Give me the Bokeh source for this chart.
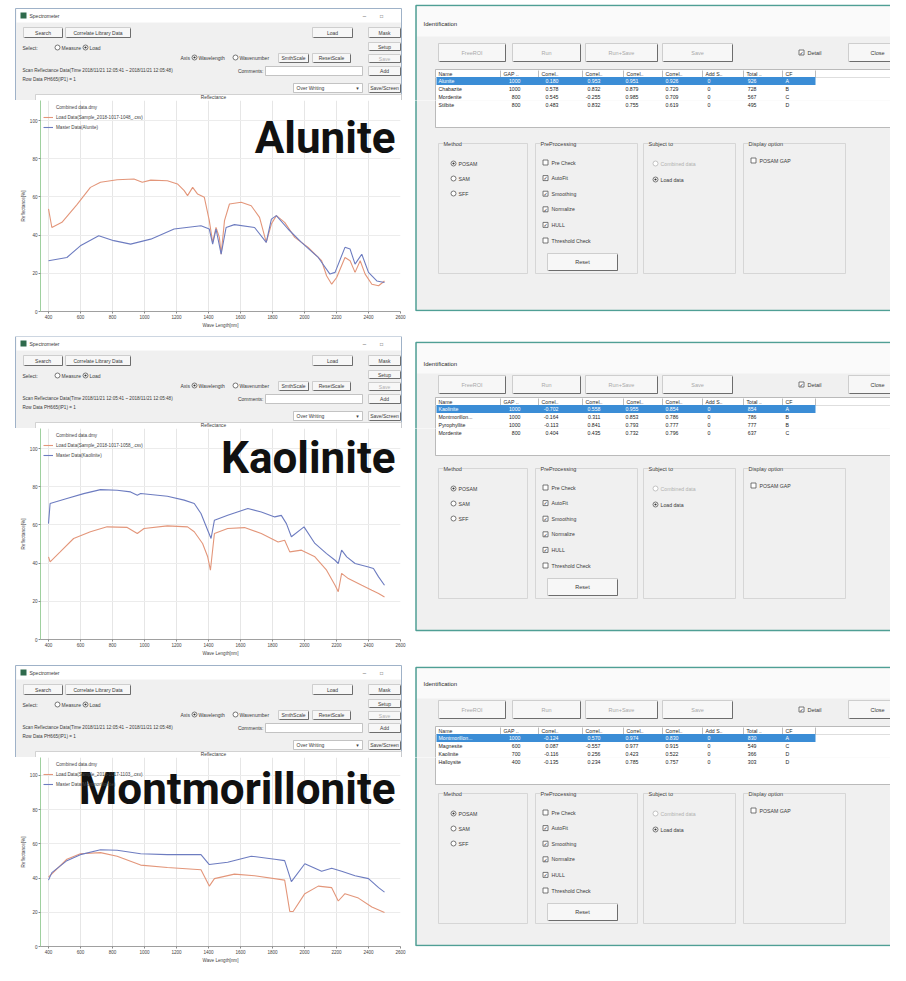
from bokeh.plotting import figure
from bokeh.layouts import row, column
from bokeh.models import Range1d, Label, FixedTicker, Legend, LegendItem
from bokeh.embed import file_html
from bokeh.resources import INLINE
from bokeh.core.properties import value

# ---------------------------------------------------------------- data
minerals = ["Alunite", "Kaolinite", "Montmorillonite"]

alunite_load_wl = [400, 421, 484, 578, 662, 725, 829, 934, 986, 1039, 1143, 1206, 1248, 1269, 1301,
                   1332, 1374, 1405, 1426, 1447, 1468, 1479, 1500, 1531, 1604, 1667, 1719, 1761, 1793,
                   1824, 1876, 1939, 2023, 2107, 2138, 2170, 2201, 2253, 2285, 2316, 2348, 2379, 2421,
                   2463, 2500]
alunite_load_refl = [53.7, 44.0, 46.7, 56.0, 65.0, 67.7, 69.0, 69.4, 67.7, 68.8, 68.5, 66.8, 63.3, 60.7,
                     65.0, 61.5, 59.8, 47.6, 36.2, 44.0, 38.8, 30.0, 47.6, 56.3, 57.2, 55.4, 49.3, 36.2,
                     45.8, 50.2, 46.7, 38.8, 33.6, 26.6, 18.7, 14.3, 17.8, 28.3, 26.6, 20.5, 26.6, 19.6,
                     14.3, 13.5, 16.0]
alunite_master_wl = [400, 515, 599, 714, 808, 913, 1039, 1185, 1353, 1405, 1426, 1447, 1479, 1510, 1562,
                     1688, 1761, 1793, 1824, 1897, 1981, 2086, 2159, 2191, 2253, 2285, 2316, 2358, 2400,
                     2452, 2500]
alunite_master_refl = [26.6, 28.3, 34.4, 39.7, 37.1, 35.3, 37.9, 43.2, 44.9, 43.2, 35.3, 43.2, 30.0, 44.0,
                       45.5, 44.0, 36.2, 48.4, 50.2, 43.2, 36.2, 28.3, 19.6, 20.5, 33.6, 32.7, 24.8, 30.0,
                       20.5, 16.0, 15.2]

kaolinite_load_wl = [400, 410, 473, 557, 662, 766, 892, 955, 997, 1143, 1269, 1311, 1363, 1395, 1412,
                     1437, 1520, 1625, 1730, 1835, 1876, 1908, 1981, 2065, 2138, 2191, 2211, 2232, 2274,
                     2358, 2421, 2463, 2500]
kaolinite_load_refl = [43.3, 40.7, 45.9, 52.9, 56.4, 59.0, 58.7, 55.5, 58.1, 59.5, 59.0, 56.4, 50.3, 43.3,
                       36.3, 55.5, 58.1, 58.6, 55.5, 51.1, 52.0, 45.9, 46.8, 43.3, 36.3, 28.4, 25.0, 34.6,
                       31.9, 28.4, 25.8, 24.1, 22.3]
kaolinite_master_wl = [400, 410, 515, 620, 725, 829, 913, 955, 976, 1143, 1248, 1311, 1353, 1395, 1416,
                       1437, 1520, 1646, 1730, 1814, 1855, 1887, 1918, 1997, 2065, 2138, 2191, 2211, 2232,
                       2264, 2316, 2400, 2431, 2463, 2500]
kaolinite_master_refl = [60.7, 71.2, 73.8, 76.4, 78.5, 78.2, 77.3, 75.6, 76.5, 75.0, 73.0, 71.2, 66.0, 57.2,
                         52.9, 62.5, 65.1, 68.6, 66.8, 64.2, 65.0, 60.7, 53.8, 59.0, 50.3, 45.0, 41.5, 39.8,
                         46.8, 43.3, 39.8, 38.0, 37.2, 32.8, 28.4]

montmorillonite_load_wl = [400, 515, 599, 725, 829, 976, 1143, 1353, 1405, 1437, 1562, 1688, 1876, 1908,
                           1929, 2002, 2086, 2170, 2211, 2253, 2337, 2421, 2500]
montmorillonite_load_refl = [40.6, 51.0, 54.2, 54.9, 52.8, 47.6, 46.2, 44.9, 35.3, 39.7, 42.3, 41.4, 38.8,
                             20.5, 20.5, 30.9, 35.3, 34.4, 26.6, 30.9, 28.3, 23.1, 19.9]
montmorillonite_master_wl = [400, 421, 515, 599, 725, 829, 976, 1143, 1353, 1405, 1520, 1667, 1814, 1876,
                             1918, 2002, 2107, 2170, 2232, 2316, 2400, 2463, 2500]
montmorillonite_master_refl = [38.8, 43.2, 50.2, 53.7, 56.6, 56.3, 54.2, 53.7, 53.7, 47.9, 49.3, 52.8, 51.0,
                               50.2, 37.9, 48.4, 44.0, 45.8, 44.0, 41.4, 39.7, 34.4, 31.8]

wavelength_ticks = [400, 600, 800, 1000, 1200, 1400, 1600, 1800, 2000, 2200, 2400, 2600]
reflectance_ticks = [0, 20, 40, 60, 80, 100]

table_header = ["Name", "GAP ..", "Correl..", "Correl..", "Correl..", "Correl..", "Add S..", "Total ..", "CF"]
alunite_matches = [
    ["Alunite", "1000", "0.180", "0.953", "0.951", "0.926", "0", "926", "A"],
    ["Chabazite", "1000", "0.578", "0.832", "0.879", "0.729", "0", "728", "B"],
    ["Mordenite", "800", "0.545", "-0.255", "0.985", "0.709", "0", "567", "C"],
    ["Stilbite", "800", "0.483", "0.832", "0.755", "0.619", "0", "495", "D"],
]
kaolinite_matches = [
    ["Kaolinite", "1000", "-0.702", "0.558", "0.955", "0.854", "0", "854", "A"],
    ["Montmorillon...", "1000", "-0.164", "0.311", "0.853", "0.786", "0", "786", "B"],
    ["Pyrophyllite", "1000", "-0.113", "0.841", "0.793", "0.777", "0", "777", "B"],
    ["Mordenite", "800", "0.404", "0.435", "0.732", "0.796", "0", "637", "C"],
]
montmorillonite_matches = [
    ["Montmorillon...", "1000", "-0.124", "0.570", "0.974", "0.830", "0", "830", "A"],
    ["Magnesite", "600", "0.087", "-0.557", "0.977", "0.915", "0", "549", "C"],
    ["Kaolinite", "700", "-0.116", "0.256", "0.423", "0.522", "0", "366", "D"],
    ["Halloysite", "400", "-0.135", "0.234", "0.785", "0.757", "0", "303", "D"],
]

# ---------------------------------------------------------------- style / layout
UI_FONT = "Liberation Sans"
BIG_FONT = "Roboto"
UI_TEXT = "#3a3a3a"
WIN_BG = "#f0f0f0"
ORANGE = "#e3967a"
BLUE = "#6d7cc0"
SEL = "#3b8dd6"

PAGE_W = 890
LEFT_W = 408
LEFT_WIN_TOP = [8, 336, 665]
BAND_TOP = [0, 336, 664]          # top of each window band on the page
FRAME_TOP = [100, 428, 757]       # top of each spectrum frame
BAND_BOTTOM = [336, 664, 965]
FRAME_BOTTOM_BORDER = [25, 25, 19]
# window top, bottom, title dy, buttons dy, table dy, groups dy
RIGHT_WIN = [(5, 310, 18, 38, 64, 138), (342, 630, 21, 33, 55, 126), (667, 945, 16, 33, 59, 126)]
BIG_LABEL_Y = [90.6, 94.8, 91.8]


class Pane:
    """A bare drawing surface whose data space equals page pixels."""

    def __init__(self, x0, y0, w, h, bb=0, bg="white"):
        self.x0, self.x1 = x0, x0 + w
        self.y0, self.y1 = y0, y0 + h - bb
        p = figure(width=w, height=h, x_range=Range1d(self.x0, self.x1), y_range=Range1d(self.y1, self.y0),
                   x_axis_type=None, y_axis_type=None, output_backend="svg", toolbar_location=None,
                   min_border=0, title=None)
        p.min_border_bottom = bb
        p.outline_line_color = None
        p.background_fill_color = bg
        p.border_fill_color = bg
        self.p = p

    def has(self, x, y, half):
        return (y + half > self.y0) and (y - half < self.y1) and self.x0 <= x <= self.x1 - 2

    def txt(self, x, y, s, size=5.0, color=UI_TEXT, align="left", bold=False, font=UI_FONT, bg=None):
        if not self.has(x, y, size * 0.55):
            return
        kw = {}
        if bg is not None:
            kw["background_fill_color"] = bg
        self.p.text(x=[x], y=[y], text=[s], text_font=value(font), text_font_size=f"{size}px",
                    text_color=color, text_align=align, text_baseline="middle",
                    text_font_style="bold" if bold else "normal", **kw)

    def box(self, x1, x2, y1, y2, fill, line=None, lw=0.8):
        self.p.quad(left=x1, right=x2, top=y1, bottom=y2, fill_color=fill, line_color=line, line_width=lw)

    def button(self, x1, x2, y1, y2, label, color=UI_TEXT, size=5.0):
        self.box(x1, x2, y1, y2, "#f7f7f7", "#c4c4c4")
        self.p.segment(x0=[x1 + 1, x2], y0=[y2, y1 + 1], x1=[x2, x2], y1=[y2, y2], line_color="#6d6d6d",
                       line_width=1)
        self.txt((x1 + x2) / 2, (y1 + y2) / 2, label, size, color, "center")

    def radio(self, x, y, on, color="#555555"):
        if not self.has(x, y, 3):
            return
        self.p.scatter(x=[x], y=[y], size=5, marker="circle", fill_color="white", line_color=color,
                       line_width=0.8)
        if on:
            self.p.scatter(x=[x], y=[y], size=2.2, marker="circle", fill_color="#333333", line_color=None)

    def checkbox(self, x, y, on):
        if not self.has(x, y, 3):
            return
        self.p.scatter(x=[x], y=[y], size=5, marker="square", fill_color="white", line_color="#555555",
                       line_width=0.8)
        if on:
            self.txt(x, y + 0.2, "\u2713", 5, "#222222", "center", font="DejaVu Sans")

    def group(self, x1, x2, y1, y2, title):
        self.box(x1, x2, y1, y2, None, "#cfcfcf")
        self.txt(x1 + 5, y1, title, 5.5, UI_TEXT, bg=WIN_BG)


# ---------------------------------------------------------------- left window (top chrome)
def left_top(r):
    y0 = BAND_TOP[r]
    wt = LEFT_WIN_TOP[r]
    h = FRAME_TOP[r] - y0
    s = Pane(0, y0, LEFT_W, h)
    s.box(15, 401, wt, y0 + h + 2, WIN_BG, "#9fb2c8", 1)
    s.box(16, 400.5, wt + 0.5, wt + 14, "white")
    s.box(20, 26, wt + 4, wt + 10, "#2f6a4c")
    s.txt(29, wt + 7, "Spectrometer", 5)
    s.txt(364, wt + 7, "\u2013", 6, align="center")
    s.txt(381, wt + 7, "\u25a1", 5, align="center")
    s.button(23, 62, wt + 19, wt + 29, "Search")
    s.button(65, 130, wt + 19, wt + 29, "Correlate Library Data")
    s.button(312, 352, wt + 19, wt + 29, "Load")
    s.button(368, 400, wt + 19, wt + 29, "Mask")
    s.txt(22, wt + 39, "Select:", 5)
    s.radio(57, wt + 39, False)
    s.txt(61, wt + 39, "Measure", 5)
    s.radio(85, wt + 39, True)
    s.txt(89, wt + 39, "Load", 5)
    s.button(368, 400, wt + 34, wt + 42, "Setup")
    s.button(368, 400, wt + 46, wt + 54, "Save", color="#b0b0b0")
    s.txt(180, wt + 49, "Axis", 5)
    s.radio(194, wt + 49, True)
    s.txt(198, wt + 49, "Wavelength", 5)
    s.radio(235, wt + 49, False)
    s.txt(239, wt + 49, "Wavenumber", 5)
    s.button(278, 308, wt + 45, wt + 54, "SmthScale")
    s.button(312, 350, wt + 45, wt + 54, "ResetScale")
    s.txt(22, wt + 62, "Scan Reflectance Data(Time 2018/11/21 12:05:41 ~ 2018/11/21 12:05:48)", 4.6)
    s.txt(263, wt + 62, "Comments:", 5, align="right")
    s.box(265, 362, wt + 58, wt + 67, "white", "#b5b5b5")
    s.button(368, 400, wt + 58, wt + 67, "Add")
    s.txt(22, wt + 71, "Row Data PH665(IP1) = 1", 4.6)
    s.box(293, 362, wt + 75, wt + 84, "white", "#b5b5b5")
    s.txt(296, wt + 79.5, "Over Writing", 5)
    s.txt(357, wt + 79.5, "\u25be", 5, align="center", font="DejaVu Sans")
    s.button(368, 400, wt + 75, wt + 84, "Save/Screen")
    s.box(35, 401, wt + 86, y0 + h + 2, "white", "#c8c8c8")
    s.txt(213, wt + 88.8, "Reflectance", 4.8, align="center")
    return s.p


# ---------------------------------------------------------------- spectrum plot
def spectrum(r, load_wl, load_refl, master_wl, master_refl, load_file):
    h = BAND_BOTTOM[r] - FRAME_TOP[r]
    p = figure(width=LEFT_W, height=h, x_range=Range1d(350, 2600), y_range=Range1d(0, 110.5),
               output_backend="svg", toolbar_location=None, title=None,
               min_border_left=40, min_border_right=8, min_border_top=0,
               min_border_bottom=FRAME_BOTTOM_BORDER[r])
    p.background_fill_color = "white"
    p.border_fill_color = "white"
    p.outline_line_color = None
    p.xaxis.ticker = FixedTicker(ticks=wavelength_ticks)
    p.yaxis.ticker = FixedTicker(ticks=reflectance_ticks)
    for ax in (p.xaxis[0], p.yaxis[0]):
        ax.major_label_text_font = UI_FONT
        ax.major_label_text_font_size = "4.6px"
        ax.major_label_text_color = "#444444"
        ax.axis_label_text_font = UI_FONT
        ax.axis_label_text_font_size = "4.6px"
        ax.axis_label_text_font_style = "normal"
        ax.axis_label_text_color = "#444444"
        ax.major_tick_in = 0
        ax.major_tick_out = 2
        ax.minor_tick_line_color = None
        ax.major_tick_line_color = "#8a8a8a"
        ax.major_label_standoff = 1
        ax.axis_label_standoff = 1
    p.xaxis.axis_label = "Wave Length[nm]"
    p.yaxis.axis_label = "Reflectance[%]"
    p.xaxis.axis_line_color = "#a0a0a0"
    p.yaxis.axis_line_color = "#9fd09f"
    p.xgrid.grid_line_color = "#e6e6e6"
    p.ygrid.grid_line_color = "#ececec"

    r0 = p.line(x=[], y=[], line_color="#9fc49f", line_width=1)
    r1 = p.line(x=load_wl, y=load_refl, line_color=ORANGE, line_width=1.1)
    r2 = p.line(x=master_wl, y=master_refl, line_color=BLUE, line_width=1.1)
    legend = Legend(items=[LegendItem(label="Combined data.dmy", renderers=[r0]),
                           LegendItem(label=load_file, renderers=[r1]),
                           LegendItem(label="Master Data(" + minerals[r] + ")", renderers=[r2])],
                    location="top_left")
    legend.label_text_font = UI_FONT
    legend.label_text_font_size = "4.6px"
    legend.label_text_color = "#444444"
    legend.label_height = 8
    legend.glyph_height = 8
    legend.glyph_width = 10
    legend.spacing = 2
    legend.padding = 2
    legend.margin = 3
    legend.label_standoff = 3
    legend.border_line_color = None
    legend.background_fill_alpha = 0
    p.add_layout(legend)
    big = Label(x=2569, y=BIG_LABEL_Y[r], text=minerals[r], text_align="right", text_baseline="alphabetic",
                text_font=BIG_FONT, text_font_size="44px", text_font_style="bold", text_color="#111111")
    p.add_layout(big)
    return p


# ---------------------------------------------------------------- right window (drawn on two panes)
COLS = [435, 500, 538, 582, 623, 662, 702, 743, 782, 815]
NUM_OFF = [None, 20, 20, 18, 15, 16, 8, 13, None]


def right_window(s, r, matches):
    wt, wb, ty, bt, tt, gt = RIGHT_WIN[r]
    s.box(415.5, 915, wt, wb, WIN_BG, "#4f9f95", 1.5)
    s.box(416.5, 915, wt + 1, wt + 31, "#fafafa")
    s.txt(423, wt + ty, "Identification", 6, "#2a2a2a")
    for x1, x2, lab in [(438, 505, "FreeROI"), (512, 580, "Run"), (585, 657, "Run+Save"), (662, 732, "Save")]:
        s.button(x1, x2, wt + bt, wt + bt + 18, lab, color="#a9a9a9", size=5.5)
    s.checkbox(801, wt + bt + 9, True)
    s.txt(807, wt + bt + 9, "Detail", 5.5)
    s.button(848, 906, wt + bt, wt + bt + 18, "Close", size=5.5)

    top = wt + tt
    s.box(435, 903, top, top + 58, "white", "#a9a9a9")
    s.p.segment(x0=[435], y0=[top + 8], x1=[893], y1=[top + 8], line_color="#dedede")
    s.p.segment(x0=COLS[1:], y0=[top + 1] * 9, x1=COLS[1:], y1=[top + 7.5] * 9, line_color="#bdbdbd")
    for i, hname in enumerate(table_header):
        s.txt(COLS[i] + 3, top + 4.2, hname, 5.2, "#2a2a2a")
    for j, vals in enumerate(matches):
        yc = top + 11.5 + j * 8
        if j == 0:
            s.box(436, COLS[-1], yc - 4, yc + 4, SEL)
        col = "white" if j == 0 else "#1c1c1c"
        for i, v in enumerate(vals):
            if NUM_OFF[i] is None:
                s.txt(COLS[i] + 3, yc, v, 5.2, col)
            else:
                s.txt(COLS[i] + NUM_OFF[i], yc, v, 5.2, col, align="right")
    s.box(893, 903, top + 0.5, top + 57.5, "#f0f0f0")
    s.box(894, 902, top + 10, top + 22, "#cdcdcd")

    g = wt + gt
    s.group(438, 527, g, g + 130, "Method")
    for k, (lab, on) in enumerate([("POSAM", True), ("SAM", False), ("SFF", False)]):
        s.radio(453, g + 20 + 15 * k, on)
        s.txt(458, g + 20 + 15 * k, lab, 5.2)
    s.group(535, 637, g, g + 130, "PreProcessing")
    for k, (lab, on) in enumerate([("Pre Check", False), ("AutoFit", True), ("Smoothing", True),
                                   ("Normalize", True), ("HULL", True), ("Threshold Check", False)]):
        s.checkbox(545, g + 19 + 15.6 * k, on)
        s.txt(551, g + 19 + 15.6 * k, lab, 5.2)
    s.button(547, 617, g + 110, g + 127, "Reset", size=5.5)
    s.group(643, 735, g, g + 130, "Subject to")
    s.radio(655, g + 20, False, color="#b5b5b5")
    s.txt(660, g + 20, "Combined data", 5.2, "#b0b0b0")
    s.radio(655, g + 36, True)
    s.txt(660, g + 36, "Load data", 5.2)
    s.group(743, 845, g, g + 130, "Display option")
    s.checkbox(753, g + 17, False)
    s.txt(759, g + 17, "POSAM GAP", 5.2)


spectra = [
    (alunite_load_wl, alunite_load_refl, alunite_master_wl, alunite_master_refl,
     "Load Data(Sample_2018-1017-1048_.csv)", alunite_matches),
    (kaolinite_load_wl, kaolinite_load_refl, kaolinite_master_wl, kaolinite_master_refl,
     "Load Data(Sample_2018-1017-1058_.csv)", kaolinite_matches),
    (montmorillonite_load_wl, montmorillonite_load_refl, montmorillonite_master_wl, montmorillonite_master_refl,
     "Load Data(Sample_2018-1017-1103_.csv)", montmorillonite_matches),
]

bands = []
RIGHT_W = PAGE_W - LEFT_W
for r, (lw, lr, mw, mr, lf, mt) in enumerate(spectra):
    upper = Pane(LEFT_W, BAND_TOP[r], RIGHT_W, FRAME_TOP[r] - BAND_TOP[r])
    right_window(upper, r, mt)
    lower = Pane(LEFT_W, FRAME_TOP[r], RIGHT_W, BAND_BOTTOM[r] - FRAME_TOP[r], bb=FRAME_BOTTOM_BORDER[r])
    right_window(lower, r, mt)
    bands.append(row(left_top(r), upper.p))
    bands.append(row(spectrum(r, lw, lr, mw, mr, lf), lower.p))

page = column(*bands)
open("out.html", "w").write(file_html(page, INLINE, title="Identification"))
